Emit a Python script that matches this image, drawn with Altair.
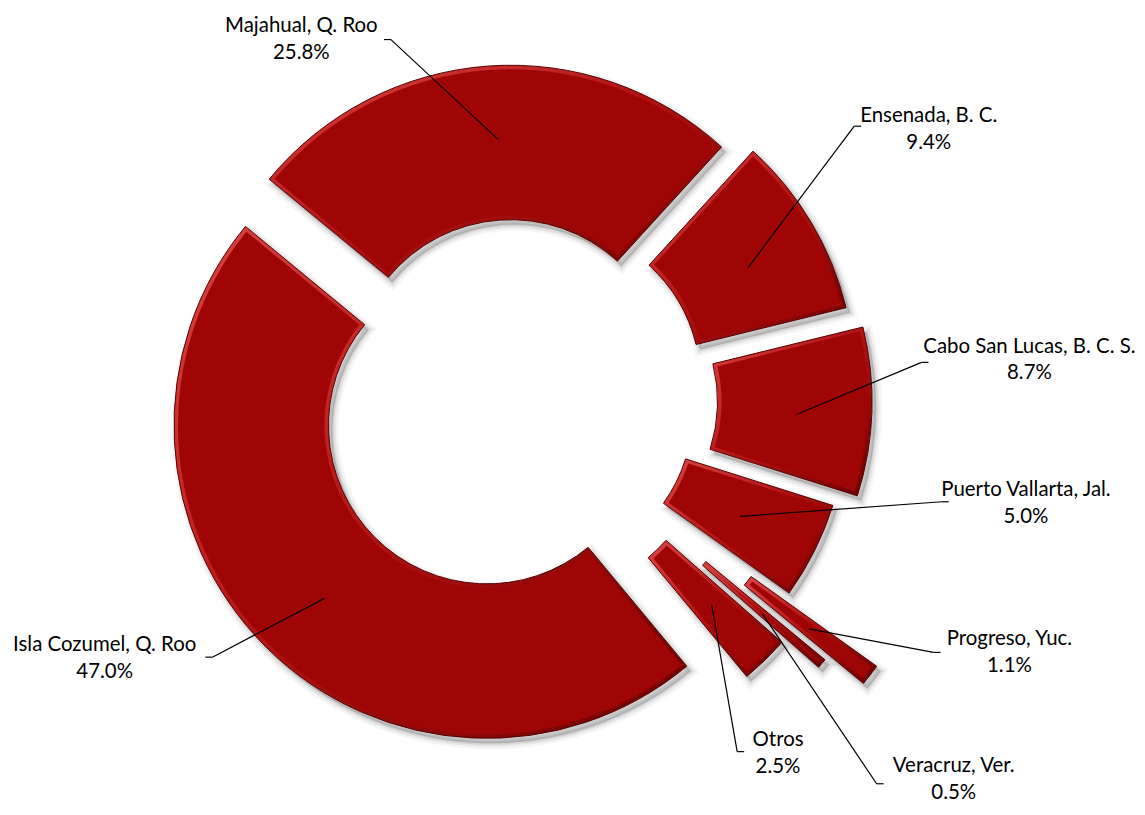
import math
import altair as alt
import pandas as pd

# ---- data ----
names = ["Majahual, Q. Roo", "Ensenada, B. C.", "Cabo San Lucas, B. C. S.",
         "Puerto Vallarta, Jal.", "Progreso, Yuc.", "Veracruz, Ver.",
         "Otros", "Isla Cozumel, Q. Roo"]
shares = [25.8, 9.4, 8.7, 5.0, 1.1, 0.5, 2.5, 47.0]

# ---- layout (per-slice explosion and label placement, polar, relative to slice mid-angle) ----
explode = [22, 35, 47, 25, 139, 94, 50, 36]
lead_r = [267, 269, 281, 250, 369, 323, 280, 274]            # leader start radius
elbow_r = [388, 439, 408, 437, 486, 524, 412, 397]           # leader elbow radius
elbow_da = [-15.0, -8.9, -7.9, -13.7, -6.8, 6.1, 11.8, 5.5]  # deg offset from mid
text_r = [426, 497, 516, 520, 553, 577, 437, 486]
text_da = [-26.5, -3.1, -6.9, -15.6, -10.8, 0.2, 7.4, 13.5]

# ---- geometry / style ----
W, H = 1133, 795
CX, CY = 506, 392          # donut centre (px)
LX, LY = 511, 397          # origin for label placement (px)
A0 = 309.5                 # first slice start angle (deg, clockwise from 12 o'clock)
R_OUT, R_IN = 314, 159
MAIN = "#a00505"
FONT = "Lato"

df = pd.DataFrame({
    "order": list(range(len(names))),
    "name": names,
    "share": shares,
    "explode": explode,
    "lead_r": lead_r, "elbow_r": elbow_r, "elbow_da": elbow_da,
    "text_r": text_r, "text_da": text_da,
})

a0r = A0 * math.pi / 180
theta_scale = alt.Scale(domain=[0, 100], range=[a0r, a0r + 2 * math.pi])

base = alt.Chart(df).transform_window(
    cum="sum(share)", sort=[alt.SortField("order")], frame=[None, 0]
).transform_calculate(
    t0="datum.cum - datum.share",
    t1="datum.cum",
    mid=f"({A0} + (datum.cum - datum.share/2) * 3.6) * PI / 180",
).transform_calculate(
    cx=f"{CX} + datum.explode * sin(datum.mid)",
    cy=f"{CY} - datum.explode * cos(datum.mid)",
    sx=f"{CX} + datum.explode * sin(datum.mid) + 4",
    sy=f"{CY} - datum.explode * cos(datum.mid) + 5",
    lx0=f"{LX} + datum.lead_r * sin(datum.mid)",
    ly0=f"{LY} - datum.lead_r * cos(datum.mid)",
    ex=f"{LX} + datum.elbow_r * sin(datum.mid + datum.elbow_da * PI / 180)",
    ey=f"{LY} - datum.elbow_r * cos(datum.mid + datum.elbow_da * PI / 180)",
    tx=f"{LX} + datum.text_r * sin(datum.mid + datum.text_da * PI / 180)",
    ty=f"{LY} - datum.text_r * cos(datum.mid + datum.text_da * PI / 180)",
    lab="datum.name + '\\n' + format(datum.share, '.1f') + '%'",
).transform_calculate(
    ex2="datum.tx > datum.ex ? datum.ex + 7 : datum.ex - 7",
)

theta_enc = dict(
    theta=alt.Theta("t0:Q", stack=None, scale=theta_scale),
    theta2=alt.Theta2("t1:Q"),
)

layers = []
# soft drop shadow
for w, op in [(12, 0.04), (7, 0.06), (3, 0.08)]:
    layers.append(
        base.mark_arc(radius=R_OUT, radius2=R_IN, fill="black", fillOpacity=op,
                      stroke="black", strokeOpacity=op, strokeWidth=w).encode(
            x=alt.X("sx:Q", scale=None), y=alt.Y("sy:Q", scale=None), **theta_enc)
    )

# bevel band (gradient) with dark outline
bevel = alt.LinearGradient(
    gradient="linear",
    stops=[alt.GradientStop(color="#dc4444", offset=0),
           alt.GradientStop(color="#b01212", offset=0.5),
           alt.GradientStop(color="#6a0000", offset=1)],
    x1=0, y1=0, x2=1, y2=1,
)
layers.append(
    base.mark_arc(radius=R_OUT, radius2=R_IN, fill=bevel, stroke="#560000",
                  strokeWidth=1).encode(
        x=alt.X("cx:Q", scale=None), y=alt.Y("cy:Q", scale=None), **theta_enc)
)
# main face (inset)
layers.append(
    base.mark_arc(radius=R_OUT - 4, radius2=R_IN + 4, padAngle=0.02, fill=MAIN).encode(
        x=alt.X("cx:Q", scale=None), y=alt.Y("cy:Q", scale=None), **theta_enc)
)

# leader lines
layers.append(
    base.mark_rule(color="black", strokeWidth=1.2).encode(
        x=alt.X("lx0:Q", scale=None), y=alt.Y("ly0:Q", scale=None),
        x2="ex:Q", y2="ey:Q")
)
layers.append(
    base.mark_rule(color="black", strokeWidth=1.2).encode(
        x=alt.X("ex:Q", scale=None), y=alt.Y("ey:Q", scale=None),
        x2="ex2:Q", y2="ey:Q")
)
# labels (two lines, block centred on tx, ty)
layers.append(
    base.mark_text(font=FONT, fontSize=20.5, lineBreak="\n", lineHeight=27,
                   align="center", baseline="middle", dy=-13.5, color="black").encode(
        x=alt.X("tx:Q", scale=None), y=alt.Y("ty:Q", scale=None), text="lab:N")
)

chart = alt.layer(*layers).properties(
    width=W, height=H, autosize=alt.AutoSizeParams(type="none"), padding=0,
    background="white"
).configure_view(strokeWidth=0, stroke=None)

chart.save("out.html", embed_options={"renderer": "svg", "actions": False})
